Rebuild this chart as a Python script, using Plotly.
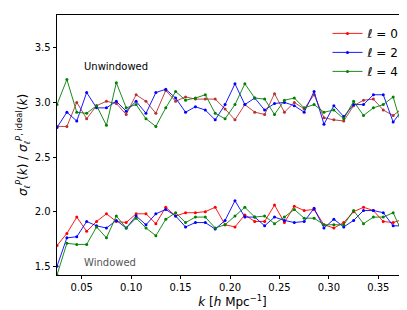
import numpy as np
import plotly.graph_objects as go

k = [round(0.025 + 0.01 * i, 3) for i in range(37)]

unw_l0 = [2.78, 2.78, 3.00, 2.85, 2.97, 3.01, 2.99, 2.89, 3.07, 3.01, 2.90, 3.11, 3.01, 3.05, 3.03, 3.03, 3.03, 2.94, 2.84,
          2.98, 2.91, 2.89, 3.08, 2.91, 3.00, 2.94, 3.07, 2.86, 2.84, 2.83, 2.97, 3.02, 3.03, 2.93, 2.88, 2.95, 2.95]
unw_l2 = [2.77, 2.91, 2.83, 3.09, 2.95, 2.95, 3.01, 2.92, 3.01, 2.90, 3.09, 3.12, 3.04, 2.91, 2.96, 2.93, 2.84, 2.98, 3.17,
          2.98, 3.04, 2.93, 2.99, 3.00, 2.97, 2.91, 3.10, 2.80, 2.97, 2.87, 2.98, 2.98, 3.07, 3.07, 2.82, 2.94, 2.84]
unw_l4 = [2.98, 3.21, 2.91, 2.90, 2.97, 2.79, 3.18, 2.95, 2.98, 2.85, 2.78, 2.95, 3.10, 3.02, 3.04, 3.07, 2.90, 2.85, 2.98,
          3.17, 3.04, 3.03, 2.89, 3.02, 3.04, 2.95, 2.98, 2.91, 2.93, 2.85, 3.01, 2.88, 2.95, 2.98, 3.05, 2.74, 2.79]

win_l0 = [1.69, 1.80, 1.95, 1.82, 1.91, 1.98, 1.91, 1.90, 1.98, 1.98, 1.89, 2.04, 1.96, 1.99, 1.99, 2.00, 2.04, 1.88, 1.86,
          1.97, 1.91, 1.91, 2.06, 1.90, 2.05, 2.01, 2.02, 1.88, 1.85, 1.90, 2.00, 2.04, 2.01, 1.91, 1.90, 1.93, 1.93]
win_l2 = [1.50, 1.76, 1.77, 1.91, 1.87, 1.85, 1.92, 1.85, 1.96, 1.88, 1.98, 2.02, 1.96, 1.86, 1.90, 1.90, 1.84, 1.92, 2.10,
          1.95, 1.95, 1.87, 1.95, 1.92, 1.90, 1.91, 2.03, 1.85, 1.93, 1.86, 1.92, 2.01, 2.01, 1.99, 1.87, 1.87, 1.82]
win_l4 = [1.42, 1.71, 1.70, 1.70, 1.86, 1.76, 1.96, 1.85, 1.94, 1.85, 1.78, 1.93, 1.99, 1.90, 1.95, 1.95, 1.85, 1.88, 1.96,
          2.04, 1.95, 1.96, 1.89, 1.95, 2.02, 1.94, 1.94, 1.88, 1.88, 1.88, 2.01, 1.89, 1.95, 1.95, 1.99, 1.79, 1.84]

labels = ["<i>ℓ</i> = 0", "<i>ℓ</i> = 2", "<i>ℓ</i> = 4"]
win_colors = ["#ff0000", "#0000ff", "#008000"]
unw_colors = ["#b83030", "#0000ff", "#008000"]

fig = go.Figure()
for ys, c, lab in zip([win_l0, win_l2, win_l4], win_colors, labels):
    fig.add_trace(go.Scatter(x=k, y=ys, mode="lines+markers", name=lab,
                             line=dict(color=c, width=0.9), marker=dict(color=c, size=3)))
for ys, c in zip([unw_l0, unw_l2, unw_l4], unw_colors):
    fig.add_trace(go.Scatter(x=k, y=ys, mode="lines+markers", showlegend=False,
                             line=dict(color=c, width=0.9), marker=dict(color=c, size=3)))

fig.add_annotation(x=0.0507, y=3.33, text="Unwindowed", showarrow=False, xanchor="left",
                   font=dict(size=10, color="#000000"))
fig.add_annotation(x=0.0507, y=1.53, text="Windowed", showarrow=False, xanchor="left",
                   font=dict(size=10, color="#555555"))

axis_common = dict(showgrid=False, zeroline=False, showline=True, linecolor="#000000", linewidth=0.8,
                   mirror=True, ticks="outside", ticklen=3.5, tickwidth=0.8, tickcolor="#000000",
                   tickfont=dict(size=10, color="#000000"), automargin=False)

fig.update_xaxes(range=[0.025, 0.38], tickvals=[0.05, 0.10, 0.15, 0.20, 0.25, 0.30, 0.35],
                 ticktext=["0.05", "0.10", "0.15", "0.20", "0.25", "0.30", "0.35"],
                 title=dict(text="<i>k</i> [<i>h</i> Mpc<sup>−1</sup>]", font=dict(size=12), standoff=2),
                 **axis_common)
fig.update_yaxes(range=[1.42, 3.8], tickvals=[1.5, 2.0, 2.5, 3.0, 3.5],
                 ticktext=["1.5", "2.0", "2.5", "3.0", "3.5"],
                 title=dict(text="<i>σ</i><sub><i>ℓ</i></sub><sup><i>P</i></sup>(<i>k</i>) / <i>σ</i><sub><i>ℓ</i></sub><sup><i>P</i>, ideal</sup>(<i>k</i>)",
                            font=dict(size=12), standoff=4),
                 **axis_common)

fig.update_layout(width=407, height=310, margin=dict(l=49, r=7, t=7, b=43, autoexpand=False),
                  paper_bgcolor="white", plot_bgcolor="white",
                  font=dict(family="DejaVu Sans", color="#000000"),
                  legend=dict(x=0.99, xanchor="right", y=0.985, yanchor="top", bgcolor="rgba(0,0,0,0)",
                              font=dict(size=12), tracegroupgap=0, itemwidth=30))
fig.write_html("out.html")
